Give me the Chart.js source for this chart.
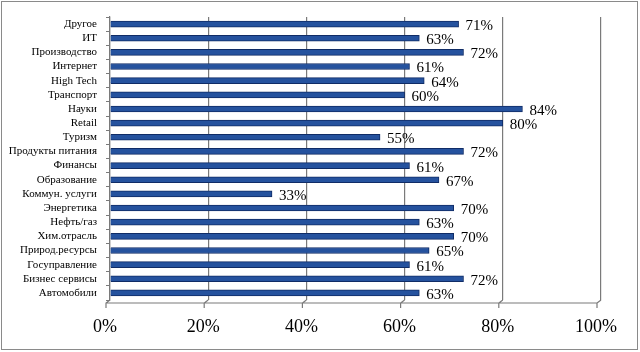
<!DOCTYPE html>
<html><head><meta charset="utf-8">
<script src="https://cdn.jsdelivr.net/npm/chart.js@4.4.1/dist/chart.umd.min.js"></script>
<style>
html,body{margin:0;padding:0;background:#fff;}
#wrap{position:relative;width:640px;height:352px;}
#frame{position:absolute;left:1px;top:1px;width:635px;height:347px;border:1.5px solid #8a8a8a;pointer-events:none;}
canvas{position:absolute;left:0;top:0;}
</style></head>
<body>
<div id="wrap"><canvas id="c" width="640" height="352"></canvas><div id="frame"></div></div>
<script>
const categories = ["Другое","ИТ","Производство","Интернет","High Tech","Транспорт","Науки","Retail","Туризм","Продукты питания","Финансы","Образование","Коммун. услуги","Энергетика","Нефть/газ","Хим.отрасль","Природ.ресурсы","Госуправление","Бизнес сервисы","Автомобили"];
const values = [71,63,72,61,64,60,84,80,55,72,61,67,33,70,63,70,65,61,72,63];
const xTicks = [0,20,40,60,80,100];

const labelPlugin = {
  id:'valLabels',
  afterDatasetsDraw(chart){
    const ctx = chart.ctx;
    const meta = chart.getDatasetMeta(0);
    ctx.save();
    ctx.font = '15px "Liberation Serif", "Times New Roman", serif';
    ctx.fillStyle = '#000';
    ctx.textAlign = 'left';
    ctx.textBaseline = 'middle';
    meta.data.forEach((bar,i)=>{
      ctx.fillText(values[i] + '%', bar.x + 7, bar.y + 2);
    });
    ctx.restore();
  }
};

const floorPlugin = {
  id:'floor',
  afterDraw(chart){
    const ctx = chart.ctx;
    const xs = chart.scales.x;
    const b = chart.chartArea.bottom;
    ctx.save();
    ctx.strokeStyle = '#7a7a7a';
    ctx.lineWidth = 1.2;
    ctx.beginPath();
    ctx.moveTo(xs.getPixelForValue(0) - 4, b + 3);
    ctx.lineTo(xs.getPixelForValue(100) - 4, b + 3);
    xTicks.forEach(v=>{
      const px = xs.getPixelForValue(v);
      ctx.moveTo(px, b);
      ctx.lineTo(px - 4, b + 3);
      ctx.lineTo(px - 4, b + 8);
    });
    ctx.stroke();
    ctx.restore();
  }
};

new Chart(document.getElementById('c'), {
  type:'bar',
  data:{
    labels:categories,
    datasets:[{
      data:values,
      backgroundColor:'#25529e',
      borderColor:'#102c66',
      borderWidth:1,
      barThickness:6
    }]
  },
  options:{
    indexAxis:'y',
    responsive:false,
    animation:false,
    layout:{padding:{top:17,right:39,left:0,bottom:0}},
    plugins:{legend:{display:false},tooltip:{enabled:false}},
    scales:{
      x:{
        min:0,max:100,
        afterBuildTicks(s){ s.ticks = xTicks.map(v=>({value:v})); },
        afterFit(s){ s.height = 52; },
        grid:{color:'#7a7a7a',lineWidth:1.2,drawTicks:false},
        border:{display:false},
        ticks:{
          callback:(v)=>v+'%',
          font:{family:'"Liberation Serif", "Times New Roman", serif',size:18},
          color:'#000',
          padding:16,
          labelOffset:-5,
          maxRotation:0
        }
      },
      y:{
        afterFit(s){ s.width = 110; },
        grid:{display:true,drawOnChartArea:false,drawTicks:true,tickLength:4,color:'#7a7a7a',offset:true},
        border:{display:true,color:'#7a7a7a',width:1.2},
        ticks:{
          font:{family:'"Liberation Serif", "Times New Roman", serif',size:11},
          color:'#000',
          padding:9,
          autoSkip:false
        }
      }
    }
  },
  plugins:[labelPlugin, floorPlugin]
});
</script>
</body></html>
